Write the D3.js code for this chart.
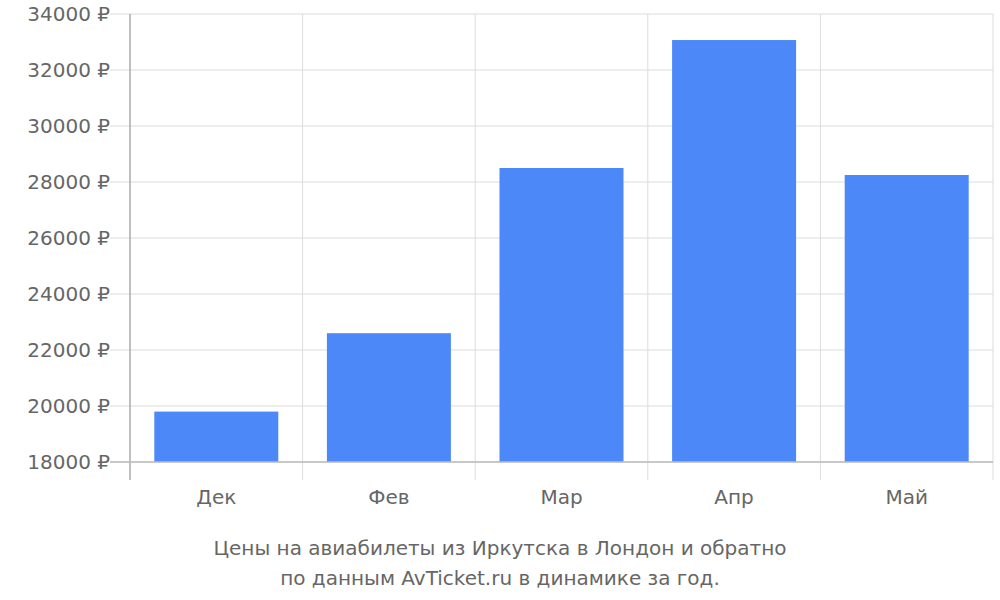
<!DOCTYPE html>
<html><head><meta charset="utf-8">
<script src="https://cdn.jsdelivr.net/npm/d3@7"></script>
<style>body{margin:0;background:#fff}svg{display:block}</style>
</head><body><svg id="c" width="1000" height="600"></svg>
<script>
const categories = ["Дек","Фев","Мар","Апр","Май"];
const prices = [19800, 22600, 28500, 33070, 28250];
const yTicks = [18000,20000,22000,24000,26000,28000,30000,32000,34000];
const captionLines = ["Цены на авиабилеты из Иркутска в Лондон и обратно","по данным AvTicket.ru в динамике за год."];

const svg = d3.select("#c");
const L=130,R=993,T=14,B=462;
const x = d3.scaleBand().domain(categories).range([L,R]).paddingInner(0).paddingOuter(0);
const y = d3.scaleLinear().domain([18000,34000]).range([B,T]);
const font = "DejaVu Sans";

// horizontal grid
svg.append("g").selectAll("line").data(yTicks).join("line")
  .attr("x1",110).attr("x2",R).attr("y1",d=>y(d)).attr("y2",d=>y(d))
  .attr("stroke","#dcdcdc").attr("stroke-width",1);
// vertical grid
const bounds = categories.map(c=>x(c)).concat([R]);
svg.append("g").selectAll("line").data(bounds.slice(1)).join("line")
  .attr("x1",d=>d).attr("x2",d=>d).attr("y1",T).attr("y2",480)
  .attr("stroke","#dcdcdc").attr("stroke-width",1);
// bars
const bw = 124;
svg.append("g").selectAll("rect").data(prices).join("rect")
  .attr("x",(d,i)=>x(categories[i])+(x.bandwidth()-bw)/2)
  .attr("width",bw).attr("y",d=>y(d)).attr("height",d=>B-y(d))
  .attr("fill","#4d88f9");
// axes lines
svg.append("line").attr("x1",L).attr("x2",L).attr("y1",T).attr("y2",480).attr("stroke","#aaa").attr("stroke-width",1.5);
svg.append("line").attr("x1",110).attr("x2",R).attr("y1",B).attr("y2",B).attr("stroke","#bbb").attr("stroke-width",1.5);
// y labels
svg.append("g").selectAll("text").data(yTicks).join("text")
  .attr("x",110).attr("y",d=>y(d)+7).attr("text-anchor","end")
  .attr("font-family",font).attr("font-size",20).attr("fill","#666")
  .text(d=>d+" ₽");
// x labels
svg.append("g").selectAll("text").data(categories).join("text")
  .attr("x",d=>x(d)+x.bandwidth()/2).attr("y",504).attr("text-anchor","middle")
  .attr("font-family",font).attr("font-size",20).attr("fill","#666").text(d=>d);
// caption
svg.append("g").selectAll("text").data(captionLines).join("text")
  .attr("x",500).attr("y",(d,i)=>555+i*30).attr("text-anchor","middle")
  .attr("font-family",font).attr("font-size",20).attr("fill","#666").text(d=>d);
</script></body></html>
